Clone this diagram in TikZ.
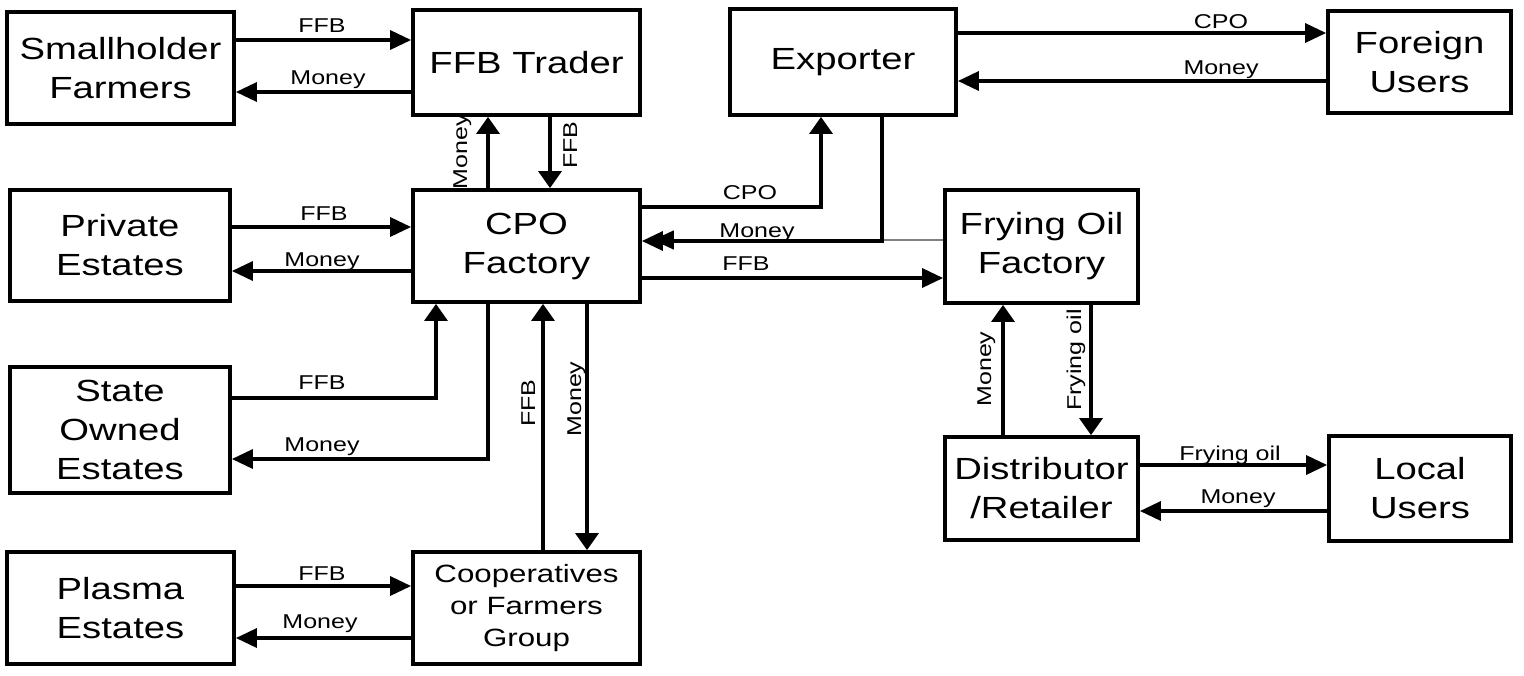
\documentclass[tikz,border=0pt]{standalone}
\usepackage{fontspec}
\setmainfont[FakeStretch=1.25]{Liberation Sans}
\usetikzlibrary{arrows.meta}
\begin{document}
\begin{tikzpicture}[x=0.5pt,y=-0.5pt,
 box/.style={draw,line width=1.9pt,align=center,inner sep=0pt,font=\fontsize{15.3}{19.5}\selectfont},
 lab/.style={anchor=base,inner sep=0pt,font=\fontsize{10}{12}\selectfont},
 vlab/.style={lab,rotate=90},
 flow/.style={line width=1.7pt},
 harr/.style={flow,-{Triangle[length=10.5pt,width=9.5pt]}},
 varr/.style={flow,-{Triangle[length=8.5pt,width=11.5pt]}},
 thinarr/.style={gray,line width=0.7pt,-{Triangle[length=10.5pt,width=9.5pt,color=black]}}
]
\useasboundingbox (0,0) rectangle (1524,675);

% boxes
\node[box,minimum width=113.5pt,minimum height=56pt] (sf) at (120.5,68) {Smallholder\\Farmers};
\node[box,minimum width=113.5pt,minimum height=52.5pt] (ft) at (526.5,62.5) {FFB Trader};
\node[box,minimum width=113pt,minimum height=53pt] (ex) at (843,62) {Exporter};
\node[box,minimum width=91.5pt,minimum height=51pt] (fu) at (1419.5,62) {Foreign\\Users};
\node[box,minimum width=110pt,minimum height=55.5pt] (pe) at (120,245.5) {Private\\Estates};
\node[box,minimum width=113.5pt,minimum height=56pt] (cpo) at (526.5,246) {CPO\\Factory};
\node[box,minimum width=96.5pt,minimum height=56.5pt] (fo) at (1041.5,246.5) {Frying Oil\\Factory};
\node[box,minimum width=110pt,minimum height=63pt] (so) at (120,430) {State\\Owned\\Estates};
\node[box,minimum width=96.5pt,minimum height=51.5pt] (dr) at (1041.5,488.5) {Distributor\\/Retailer};
\node[box,minimum width=91pt,minimum height=52.5pt] (lu) at (1420,488.5) {Local\\Users};
\node[box,minimum width=113.5pt,minimum height=56pt] (pl) at (120.5,608) {Plasma\\Estates};
\node[box,minimum width=113.5pt,minimum height=56pt,font=\fontsize{12.5}{16}\selectfont] (co) at (526.5,608) {Cooperatives\\or Farmers\\Group};

% connectors
\draw[harr] (sf.east |- 0,40) -- (ft.west |- 0,40);
\draw[harr] (ft.west |- 0,92) -- (sf.east |- 0,92);
\draw[varr] (cpo.north -| 488,0) -- (ft.south -| 488,0);
\draw[varr] (ft.south -| 550,0) -- (cpo.north -| 550,0);
\draw[harr] (pe.east |- 0,227) -- (cpo.west |- 0,227);
\draw[harr] (cpo.west |- 0,271) -- (pe.east |- 0,271);
\draw[varr] (so.east |- 0,398) -| (cpo.south -| 436,0);
\draw[harr] (cpo.south -| 488,0) |- (so.east |- 0,459);
\draw[varr] (co.north -| 543,0) -- (cpo.south -| 543,0);
\draw[varr] (cpo.south -| 587,0) -- (co.north -| 587,0);
\draw[harr] (pl.east |- 0,586) -- (co.west |- 0,586);
\draw[harr] (co.west |- 0,638) -- (pl.east |- 0,638);
\draw[varr] (cpo.east |- 0,207) -| (ex.south -| 821,0);
\coordinate (mj) at ([xshift=5.5pt]cpo.east);
\draw[thinarr] (fo.west |- 0,240) -- (mj |- 0,240);
\draw[harr] (ex.south -| 882,0) |- (cpo.east |- 0,241);
\draw[harr] (cpo.east |- 0,278) -- (fo.west |- 0,278);
\draw[harr] (ex.east |- 0,33) -- (fu.west |- 0,33);
\draw[harr] (fu.west |- 0,81) -- (ex.east |- 0,81);
\draw[varr] (dr.north -| 1003,0) -- (fo.south -| 1003,0);
\draw[varr] (fo.south -| 1091,0) -- (dr.north -| 1091,0);
\draw[harr] (dr.east |- 0,465) -- (lu.west |- 0,465);
\draw[harr] (lu.west |- 0,511) -- (dr.east |- 0,511);

% labels
\node[lab] (l1) at (322,32) {FFB};
\node[lab] (l2) at (328,84) {Money};
\node[vlab] (l3) at (467,152) {Money};
\node[vlab] (l4) at (577,145) {FFB};
\node[lab] (l5) at (324,220) {FFB};
\node[lab] (l6) at (322,266) {Money};
\node[lab] (l7) at (322,389) {FFB};
\node[lab] (l8) at (322,451) {Money};
\node[vlab] (l9) at (535,403) {FFB};
\node[vlab] (l10) at (581,399) {Money};
\node[lab] (l11) at (322,580) {FFB};
\node[lab] (l12) at (320,628) {Money};
\node[lab] (l13) at (750,199) {CPO};
\node[lab] (l14) at (757,237) {Money};
\node[lab] (l16) at (746,270) {FFB};
\node[lab] (l17) at (1221,28) {CPO};
\node[lab] (l18) at (1221,74) {Money};
\node[vlab] (l19) at (991,369) {Money};
\node[vlab] (l20) at (1081,360) {Frying oil};
\node[lab] (l21) at (1230,460) {Frying oil};
\node[lab] (l22) at (1238,503) {Money};
\end{tikzpicture}
\end{document}
